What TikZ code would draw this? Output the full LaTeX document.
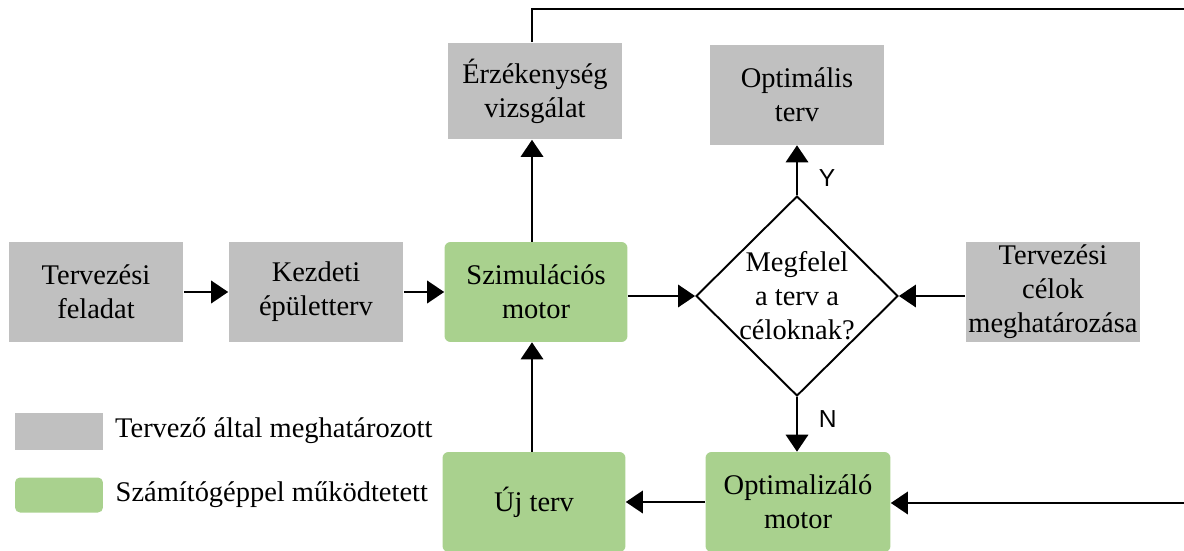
\documentclass[tikz,border=0pt]{standalone}
\usepackage{fontspec}
\setmainfont{Liberation Serif}
\newfontfamily\labelfont{Liberation Sans}
\usetikzlibrary{positioning,shapes.geometric,arrows.meta}

\tikzset{
  graybox/.style={fill=boxgray, minimum width=3.5cm, minimum height=2cm, inner sep=0pt, align=center},
  greenbox/.style={fill=boxgreen, rounded corners=0.12cm, minimum width=3.66cm, minimum height=2cm, inner sep=0pt, align=center},
  arr/.style={line width=1.1pt, -{Triangle[length=0.34cm, width=0.45cm]}},
  yn/.style={font=\labelfont\fontsize{14}{16}\selectfont}
}
\definecolor{boxgray}{HTML}{C0C0C0}
\definecolor{boxgreen}{HTML}{A9D18E}

\begin{document}
\begin{tikzpicture}[x=0.02cm, y=-0.02cm, font=\fontsize{16.2}{19.4}\selectfont]
\useasboundingbox (0,0) rectangle (1184,551);

% Boxes of the main row
\node[graybox] (task) at (96,292) {Tervezési\\feladat};
\node[graybox] (init) at (316,292) {Kezdeti\\épületterv};
\node[greenbox] (sim) at (536,292) {Szimulációs\\motor};
\node[draw, diamond, line width=1.1pt, minimum width=4.04cm, minimum height=4cm, inner sep=0pt] (dec) at (797,296) {};
\node[align=center] (dectext) at (dec.center) {Megfelel\\a terv a\\céloknak?};
\node[graybox] (goals) at (1053,292) {Tervezési\\célok\\meghatározása};

% Boxes on top
\node[graybox, minimum height=1.94cm] (sens) at (535,91) {Érzékenység\\vizsgálat};
\node[graybox] (opt) at (797,95) {Optimális\\terv};

% Boxes at the bottom
\node[greenbox] (newdes) at (534,502) {Új terv};
\node[greenbox, minimum width=3.7cm] (optmot) at (798,502) {Optimalizáló\\motor};

% Free ends of the feedback line (cut at the border)
\coordinate (topR) at (1184,9);
\coordinate (botR) at (1184,503);

% Arrows
\draw[arr] (task) -- (init);
\draw[arr] (init) -- (sim);
\draw[arr] (sim.east |- dec.west) -- (dec.west);
\draw[arr] (goals.west |- dec.east) -- (dec.east);
\draw[arr] (dec.north) -- (opt.south) node[yn, pos=0.35, right=0.3cm] (ylab) {Y};
\draw[arr] (dec.south) -- (dec.south |- optmot.north) node[yn, pos=0.4, right=0.3cm] (nlab) {N};
\draw[arr] (optmot.west) -- (newdes.east);
\draw[arr] (newdes.north -| 532,0) -- (sim.south -| 532,0);
\draw[arr] (sim.north -| 532,0) -- (sens.south -| 532,0);
\draw[line width=1.1pt] (sens.north -| 532,0) |- (topR);
\draw[arr] (botR) -- (optmot.east |- botR);

% Legend
\node[fill=boxgray, minimum width=1.78cm, minimum height=0.74cm, inner sep=0pt] (leg1) at (59,431) {};
\node[right=0.22cm of leg1, inner sep=0pt] (leg1text) {Tervező által meghatározott};
\node[fill=boxgreen, rounded corners=0.1cm, minimum width=1.76cm, minimum height=0.7cm, inner sep=0pt] (leg2) at (59,495) {};
\node[right=0.24cm of leg2, inner sep=0pt] (leg2text) {Számítógéppel működtetett};
\end{tikzpicture}
\end{document}
